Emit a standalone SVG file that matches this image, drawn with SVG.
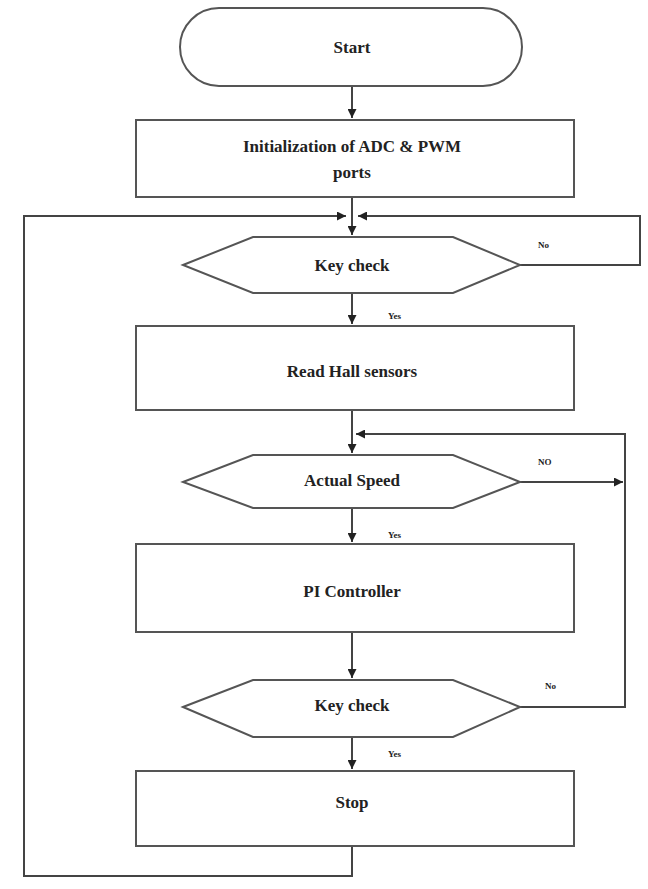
<svg xmlns="http://www.w3.org/2000/svg" width="648" height="889" viewBox="0 0 648 889">
<defs>
<marker id="ah" viewBox="0 0 10 10" refX="10" refY="5" markerWidth="4.5" markerHeight="4.5" orient="auto"><path d="M0,0 L10,5 L0,10 z" fill="#222"/></marker>
</defs>
<style>
.n{fill:#fff;stroke:#555;stroke-width:2}
.t{font-family:"Liberation Serif",serif;font-weight:bold;font-size:17px;fill:#222;text-anchor:middle}
.s{font-family:"Liberation Serif",serif;font-weight:bold;font-size:9px;fill:#222}
.c{fill:none;stroke:#444;stroke-width:2}
</style>
<rect width="648" height="889" fill="#fff"/>
<g id="connectors">
<path class="c" d="M352,86 V118" marker-end="url(#ah)"/>
<path class="c" d="M352,197 V235" marker-end="url(#ah)"/>
<path class="c" d="M352,293 V324" marker-end="url(#ah)"/>
<path class="c" d="M352,410 V453" marker-end="url(#ah)"/>
<path class="c" d="M352,508 V542" marker-end="url(#ah)"/>
<path class="c" d="M352,632 V678" marker-end="url(#ah)"/>
<path class="c" d="M352,737 V769" marker-end="url(#ah)"/>
<path class="c" d="M520,265 H640 V216 H358" marker-end="url(#ah)"/>
<path class="c" d="M352,846 V876 H24 V216 H346" marker-end="url(#ah)"/>
<path class="c" d="M520,482 H623" marker-end="url(#ah)"/>
<path class="c" d="M520,707 H625 V434 H356" marker-end="url(#ah)"/>
<text class="s" x="538" y="248">No</text>
<text class="s" x="388" y="319">Yes</text>
<text class="s" x="538" y="465">NO</text>
<text class="s" x="388" y="538">Yes</text>
<text class="s" x="545" y="689">No</text>
<text class="s" x="388" y="757">Yes</text>
</g>
<g id="start"><rect class="n" x="180" y="8" width="342" height="78" rx="39"/><text class="t" x="352" y="53">Start</text></g>
<g id="init"><rect class="n" x="136" y="120" width="438" height="77"/><text class="t" x="352" y="152">Initialization of ADC &amp; PWM</text><text class="t" x="352" y="178">ports</text></g>
<g id="key1"><polygon class="n" points="183,265 253,237 453,237 520,265 453,293 253,293"/><text class="t" x="352" y="271">Key check</text></g>
<g id="hall"><rect class="n" x="136" y="326" width="438" height="84"/><text class="t" x="352" y="377">Read Hall sensors</text></g>
<g id="speed"><polygon class="n" points="183,482 253,455 453,455 520,482 453,508 253,508"/><text class="t" x="352" y="486">Actual Speed</text></g>
<g id="pi"><rect class="n" x="136" y="544" width="438" height="88"/><text class="t" x="352" y="597">PI Controller</text></g>
<g id="key2"><polygon class="n" points="183,707 253,680 453,680 520,707 453,737 253,737"/><text class="t" x="352" y="711">Key check</text></g>
<g id="stop"><rect class="n" x="136" y="771" width="438" height="75"/><text class="t" x="352" y="808">Stop</text></g>
</svg>
